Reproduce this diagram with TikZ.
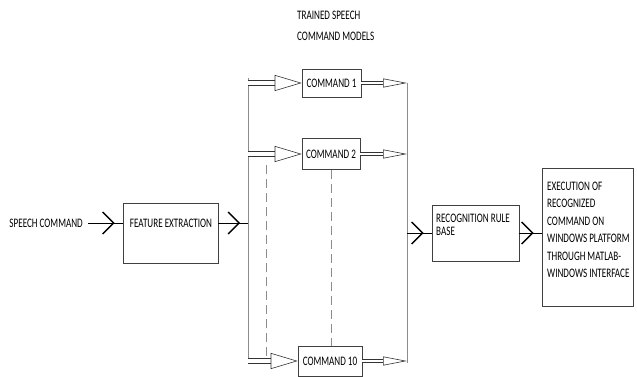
\documentclass[tikz,border=0pt]{standalone}
\usepackage{fontspec}
\setmainfont[FakeStretch=0.7]{Carlito}
\usetikzlibrary{arrows.meta,decorations.markings}
\begin{document}
\begin{tikzpicture}[x=1pt,y=-1pt]

		\tikzstyle{block}=[rectangle,
			draw=black!75,line width=0.6pt,
			inner sep=0mm]
		\tikzstyle{txt}=[inner sep=0mm,align=left,
			font=\fontsize{13}{17.5}\selectfont]
		\tikzstyle{bus}=[draw=black!45,line width=0.9pt]
		\tikzstyle{guide}=[draw=black!45,line width=0.9pt,
			dash pattern=on 9pt off 5pt]
		\tikzstyle{feed}=[draw=black,line width=0.8pt,
			postaction={decorate},
			decoration={markings,mark=at position -8pt with
				{\arrow[line width=1.4pt]{Straight Barb[length=11pt,width=22pt]}}}]
		\tikzstyle{hollowin}=[draw=black!80,line width=0.6pt,
			double=white,double distance=4pt,
			-{Triangle[open,length=27pt,width=16pt]}]
		\tikzstyle{hollowout}=[draw=black!80,line width=0.6pt,
			double=white,double distance=2.5pt,
			-{Triangle[open,length=24pt,width=9pt]}]

		\useasboundingbox (0,0) rectangle (637,377);

		% labels and boxes
		\node[txt,anchor=north west,font=\fontsize{13}{21}\selectfont]	(title)	at (297,10.8)	{TRAINED SPEECH\\COMMAND MODELS};
		\node[txt,anchor=east]	(speech)	at (83,223)	{SPEECH COMMAND};

		\node[block,minimum width=95pt,minimum height=60pt]	(fe)	at (170.5,233)	{};
		\node[txt]	(fetxt)	at (171,223)	{FEATURE EXTRACTION};

		\node[block,minimum width=59pt,minimum height=28pt]	(c1)	at (331.5,83)	{\fontsize{13}{15}\selectfont COMMAND 1};
		\node[block,minimum width=58pt,minimum height=31pt]	(c2)	at (331,154)	{\fontsize{13}{15}\selectfont COMMAND 2};
		\node[block,minimum width=64pt,minimum height=30pt]	(c10)	at (330,361)	{\fontsize{13}{15}\selectfont COMMAND 10};

		\node[block,minimum width=87pt,minimum height=56pt]	(rec)	at (475.5,233)	{};
		\node[txt,anchor=north west,font=\fontsize{13}{13.3}\selectfont]	(rectxt)	at (436,213.5)	{RECOGNITION RULE\\BASE};

		\node[block,minimum width=91pt,minimum height=138pt]	(ex)	at (587.5,237)	{};
		\node[txt,anchor=north west]	(extxt)	at (547,181.8)	{EXECUTION OF\\RECOGNIZED\\COMMAND ON\\WINDOWS PLATFORM\\THROUGH MATLAB-\\WINDOWS INTERFACE};

		% buses
		\coordinate	(lbt)	at (248,78);
		\coordinate	(lbb)	at (248,362);
		\coordinate	(rbt)	at (407,83);
		\coordinate	(rbb)	at (407,363);
		\coordinate	(gt)	at (266,165);
		\coordinate	(gb)	at (266,356);

		\draw[bus]	(lbt)	--	(lbb);
		\draw[bus]	(rbt)	--	(rbb);
		\draw[guide]	(gt)	--	(gb);
		\draw[guide]	(c2.south)	--	(c2.south |- c10.north);

		\draw[feed,shorten <=5pt]	(speech.east)	--	(speech.east -| fe.west);
		\draw[feed]	(speech.east -| fe.east)	--	(speech.east -| lbt);

		\draw[hollowin]	(lbt |- c1.west)	--	(c1.west);
		\draw[hollowin]	(lbt |- c2.west)	--	(c2.west);
		\draw[hollowin]	(lbt |- c10.west)	--	(c10.west);

		\draw[hollowout]	(c1.east)	--	(rbt |- c1.east);
		\draw[hollowout]	(c2.east)	--	(rbt |- c2.east);
		\draw[hollowout]	(c10.east)	--	(rbt |- c10.east);

		\draw[feed]	(rbt |- rec.west)	--	(rec.west);
		\draw[feed]	(rec.east)	--	(rec.east -| ex.west);

	\end{tikzpicture}
\end{document}
